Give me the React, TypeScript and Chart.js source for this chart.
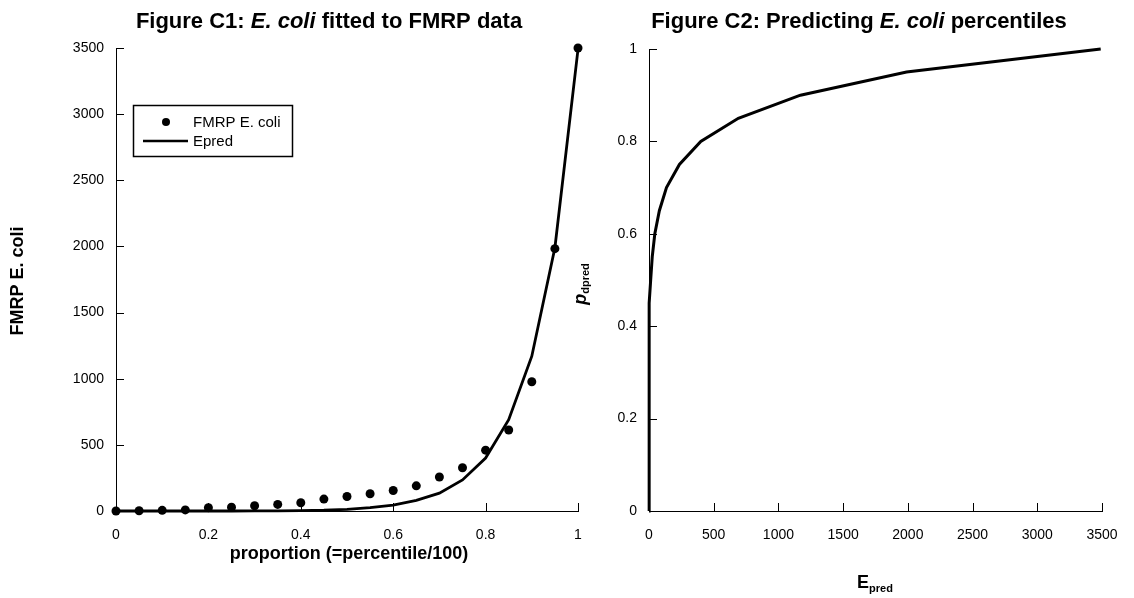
import React, { useEffect, useRef } from "react";
import { Chart, registerables } from "chart.js";
Chart.register(...registerables);

const proportion = [0, 0.05, 0.1, 0.15, 0.2, 0.25, 0.3, 0.35, 0.4, 0.45, 0.5, 0.55, 0.6, 0.65, 0.7, 0.75, 0.8, 0.85, 0.9, 0.95, 1];
const fmrpEcoli = [0, 2, 5, 8, 25, 28, 40, 50, 62, 90, 110, 130, 155, 190, 257, 327, 460, 612, 977, 1983, 3500];
const epred = [0, 0, 0, 0, 0, 0, 1, 1, 3, 6, 13, 25, 45, 80, 135, 235, 400, 690, 1170, 1990, 3490];
const c1XTicks = [0, 0.2, 0.4, 0.6, 0.8, 1];
const c1YTicks = [0, 500, 1000, 1500, 2000, 2500, 3000, 3500];
const c2XTicks = [0, 500, 1000, 1500, 2000, 2500, 3000, 3500];
const c2YTicks = [0, 0.2, 0.4, 0.6, 0.8, 1];

const FF = '"Liberation Sans", Arial, Helvetica, sans-serif';

type Run = { text: string; font: string; dy?: number };

function drawRuns(ctx: CanvasRenderingContext2D, runs: Run[], x: number, y: number, rotate = false) {
  ctx.save();
  ctx.translate(x, y);
  if (rotate) ctx.rotate(-Math.PI / 2);
  ctx.textBaseline = "alphabetic";
  ctx.textAlign = "left";
  ctx.fillStyle = "#000";
  let total = 0;
  const widths = runs.map((r) => {
    ctx.font = r.font;
    const w = ctx.measureText(r.text).width;
    total += w;
    return w;
  });
  let cx = -total / 2;
  runs.forEach((r, i) => {
    ctx.font = r.font;
    ctx.fillText(r.text, cx, r.dy || 0);
    cx += widths[i];
  });
  ctx.restore();
}

const inwardTicks = {
  id: "inwardTicks",
  afterDatasetsDraw(chart: any) {
    const ctx = chart.ctx;
    ctx.save();
    ctx.strokeStyle = "#000";
    ctx.lineWidth = 1;
    Object.values(chart.scales).forEach((s: any) => {
      s.ticks.forEach((t: any) => {
        const p = s.getPixelForValue(t.value);
        ctx.beginPath();
        if (s.isHorizontal()) {
          const x = Math.round(p) + 0.5;
          ctx.moveTo(x, s.top);
          ctx.lineTo(x, s.top - 8);
        } else {
          const y = Math.round(p) + 0.5;
          ctx.moveTo(s.right, y);
          ctx.lineTo(s.right + 8, y);
        }
        ctx.stroke();
      });
    });
    ctx.restore();
  },
};

function axis(min: number, max: number, ticks: number[], size: number, horizontal: boolean) {
  return {
    type: "linear",
    min,
    max,
    grid: { display: false, drawTicks: false },
    border: { display: true, color: "#000", width: 1 },
    ticks: {
      font: { family: FF, size: 14 },
      color: "#000",
      padding: horizontal ? 16 : 12,
      autoSkip: false,
      maxRotation: 0,
      callback: (v: any) => String(v),
    },
    afterBuildTicks: (s: any) => {
      s.ticks = ticks.map((v) => ({ value: v }));
    },
    afterFit: (s: any) => {
      if (horizontal) s.height = size;
      else s.width = size;
      s.paddingLeft = 0;
      s.paddingRight = 0;
      s.paddingTop = 0;
      s.paddingBottom = 0;
    },
  };
}

const TITLE_B = `bold 22px ${FF}`;
const TITLE_BI = `italic bold 22px ${FF}`;
const AXIS_B = `bold 18px ${FF}`;
const AXIS_BI = `italic bold 18px ${FF}`;
const SUB_B = `bold 11px ${FF}`;

function ChartC1() {
  const ref = useRef<HTMLCanvasElement>(null);
  useEffect(() => {
    const decor = {
      id: "decorC1",
      afterDraw(chart: any) {
        const ctx = chart.ctx;
        drawRuns(ctx, [
          { text: "Figure C1: ", font: TITLE_B },
          { text: "E. coli", font: TITLE_BI },
          { text: " fitted to FMRP data", font: TITLE_B },
        ], 329, 28);
        drawRuns(ctx, [{ text: "FMRP E. coli", font: AXIS_B }], 23, 281, true);
        drawRuns(ctx, [{ text: "proportion (=percentile/100)", font: AXIS_B }], 349, 559);
        // legend
        const ds = chart.data.datasets;
        ctx.save();
        ctx.strokeStyle = "#000";
        ctx.lineWidth = 1.5;
        ctx.strokeRect(133.5, 105.5, 159, 51);
        ctx.fillStyle = "#000";
        ctx.font = `15px ${FF}`;
        ctx.textBaseline = "middle";
        ctx.textAlign = "left";
        ctx.beginPath();
        ctx.arc(166, 122, 4, 0, Math.PI * 2);
        ctx.fill();
        ctx.fillText(ds[0].label, 193, 123);
        ctx.beginPath();
        ctx.lineWidth = 2.5;
        ctx.moveTo(143, 141);
        ctx.lineTo(188, 141);
        ctx.stroke();
        ctx.fillText(ds[1].label, 193, 142);
        ctx.restore();
      },
    };
    const chart = new Chart(ref.current!, {
      type: "scatter",
      data: {
        datasets: [
          {
            label: "FMRP E. coli",
            data: proportion.map((p, i) => ({ x: p, y: fmrpEcoli[i] })),
            pointRadius: 4.5,
            pointBackgroundColor: "#000",
            pointBorderWidth: 0,
            showLine: false,
            clip: false,
          },
          {
            label: "Epred",
            data: proportion.map((p, i) => ({ x: p, y: epred[i] })),
            pointRadius: 0,
            borderColor: "#000",
            borderWidth: 2.8,
            showLine: true,
            tension: 0,
            clip: false,
          },
        ],
      } as any,
      options: {
        responsive: false,
        animation: false,
        layout: { padding: { top: 48, right: 12, left: 0, bottom: 0 } },
        plugins: { legend: { display: false }, tooltip: { enabled: false }, title: { display: false } },
        scales: {
          x: axis(0, 1, c1XTicks, 87, true),
          y: axis(0, 3500, c1YTicks, 116, false),
        } as any,
      },
      plugins: [inwardTicks, decor],
    });
    return () => chart.destroy();
  }, []);
  return <canvas ref={ref} width={590} height={598} style={{ position: "absolute", left: 0, top: 0, width: 590, height: 598 }} />;
}

function ChartC2() {
  const ref = useRef<HTMLCanvasElement>(null);
  useEffect(() => {
    const decor = {
      id: "decorC2",
      afterDraw(chart: any) {
        const ctx = chart.ctx;
        drawRuns(ctx, [
          { text: "Figure C2: Predicting ", font: TITLE_B },
          { text: "E. coli", font: TITLE_BI },
          { text: " percentiles", font: TITLE_B },
        ], 299, 28);
        drawRuns(ctx, [
          { text: "p", font: AXIS_BI },
          { text: "dpred", font: SUB_B, dy: 3 },
        ], 26, 284, true);
        drawRuns(ctx, [
          { text: "E", font: AXIS_B },
          { text: "pred", font: SUB_B, dy: 4 },
        ], 315, 588);
      },
    };
    const chart = new Chart(ref.current!, {
      type: "scatter",
      data: {
        datasets: [
          {
            label: "Epred",
            data: epred.map((e, i) => ({ x: e, y: proportion[i] })),
            pointRadius: 0,
            borderColor: "#000",
            borderWidth: 3,
            showLine: true,
            tension: 0,
            clip: false,
          },
        ],
      } as any,
      options: {
        responsive: false,
        animation: false,
        layout: { padding: { top: 49, right: 32, left: 0, bottom: 0 } },
        plugins: { legend: { display: false }, tooltip: { enabled: false }, title: { display: false } },
        scales: {
          x: axis(0, 3500, c2XTicks, 87, true),
          y: axis(0, 1, c2YTicks, 89, false),
        } as any,
      },
      plugins: [inwardTicks, decor],
    });
    return () => chart.destroy();
  }, []);
  return <canvas ref={ref} width={574} height={598} style={{ position: "absolute", left: 560, top: 0, width: 574, height: 598 }} />;
}

export default function App() {
  return (
    <div style={{ position: "fixed", left: 0, top: 0, width: 1134, height: 598, background: "#fff" }}>
      <ChartC1 />
      <ChartC2 />
    </div>
  );
}
